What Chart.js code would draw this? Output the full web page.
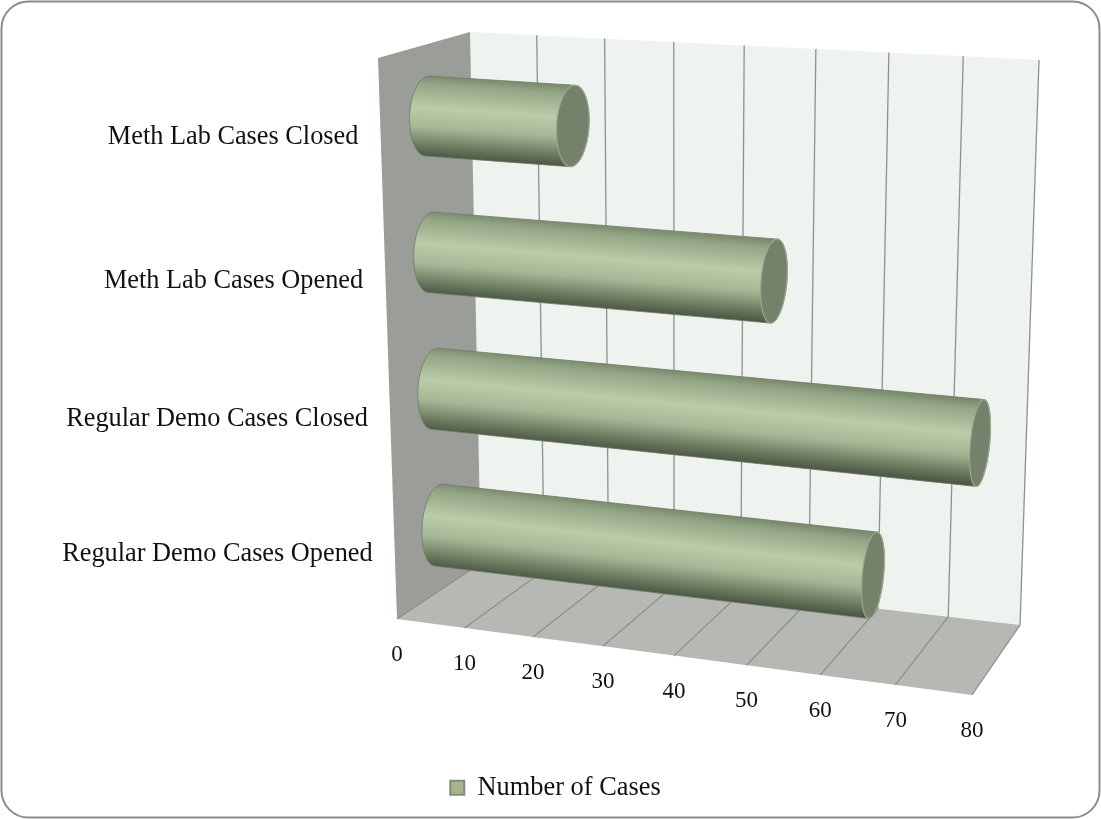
<!DOCTYPE html>
<html><head><meta charset="utf-8">
<style>html,body{margin:0;padding:0;background:#fff}canvas{display:block}</style>
<script src="https://cdn.jsdelivr.net/npm/chart.js@4"></script>
</head><body>
<canvas id="c" width="1101" height="819"></canvas>
<script>
const categories = ["Meth Lab Cases Closed","Meth Lab Cases Opened","Regular Demo Cases Closed","Regular Demo Cases Opened"];
const numberOfCases = [21,49,77,63];
const seriesName = "Number of Cases";
const axisMax = 80, axisStep = 10;
const serif = "'Liberation Serif', serif";
const labelNudge = [9,13,10,5];

// box corners on screen: front/back, bottom/top, left/right
const C = {
  fbl:[397,619], ftl:[378,58], bbl:[481,563], btl:[470,32],
  fbr:[972,695], ftr:[985,102], bbr:[1020,625], btr:[1039,60]
};
const lerp=(a,b,k)=>[a[0]+(b[0]-a[0])*k,a[1]+(b[1]-a[1])*k];
const persp=t=>{const a=0.93;return t*a/(1+t*(a-1));};
function P(t,h,d){
  const s=persp(t);
  const fb=lerp(C.fbl,C.fbr,s), ft=lerp(C.ftl,C.ftr,s), bb=lerp(C.bbl,C.bbr,s), bt=lerp(C.btl,C.btr,s);
  return lerp(lerp(fb,ft,h),lerp(bb,bt,h),d);
}
function poly(ctx,pts,fill,stroke,lw){
  ctx.beginPath();pts.forEach((p,i)=>i?ctx.lineTo(p[0],p[1]):ctx.moveTo(p[0],p[1]));ctx.closePath();
  if(fill){ctx.fillStyle=fill;ctx.fill();}
  if(stroke){ctx.strokeStyle=stroke;ctx.lineWidth=lw||1;ctx.stroke();}
}
function hull(pts){
  const s=pts.slice().sort((a,b)=>a[0]-b[0]||a[1]-b[1]);
  const cr=(o,a,b)=>(a[0]-o[0])*(b[1]-o[1])-(a[1]-o[1])*(b[0]-o[0]);
  const lo=[],up=[];
  s.forEach(p=>{while(lo.length>1&&cr(lo[lo.length-2],lo[lo.length-1],p)<=0)lo.pop();lo.push(p);});
  s.slice().reverse().forEach(p=>{while(up.length>1&&cr(up[up.length-2],up[up.length-1],p)<=0)up.pop();up.push(p);});
  lo.pop();up.pop();return lo.concat(up);
}
const stops=[[0,'#7a896e'],[.1,'#94a485'],[.4,'#bacca8'],[.64,'#a6b796'],[.86,'#6e7c62'],[1,'#4c5846']];
function cylinder(ctx,t1,hc,rh){
  const rd=0.2,dc=0.52,N=120;
  const ring=(t,th)=>P(t,hc+rh*Math.cos(th),dc-rd*Math.sin(th));
  const r0=[],r1=[],rm=[];
  for(let i=0;i<N;i++){const th=i/N*2*Math.PI;r0.push(ring(0,th));r1.push(ring(t1,th));rm.push(ring(t1/2,th));}
  const A=P(0,hc,dc),B=P(t1,hc,dc),L=Math.hypot(B[0]-A[0],B[1]-A[1]);
  const n=[-(B[1]-A[1])/L,(B[0]-A[0])/L];
  const M=P(t1/2,hc,dc);
  let lo=1e9,hi=-1e9;
  rm.forEach(p=>{const v=(p[0]-M[0])*n[0]+(p[1]-M[1])*n[1];if(v<lo)lo=v;if(v>hi)hi=v;});
  const g=ctx.createLinearGradient(M[0]+n[0]*lo,M[1]+n[1]*lo,M[0]+n[0]*hi,M[1]+n[1]*hi);
  stops.forEach(s=>g.addColorStop(s[0],s[1]));
  poly(ctx,hull(r0.concat(r1)),g,'#6f7d63',0.8);
  poly(ctx,r1,'#74816b','#99a98a',1.2);
}
const box3d={
  id:'box3d',
  beforeDraw(chart){
    const ctx=chart.ctx;
    ctx.save();
    ctx.beginPath();ctx.roundRect(1.5,1.5,1098,816,27);
    ctx.fillStyle='#fff';ctx.fill();
    ctx.strokeStyle='#8c8c8c';ctx.lineWidth=2;ctx.stroke();
    ctx.restore();
  },
  beforeDatasetsDraw(chart){
    const ctx=chart.ctx,xs=chart.scales.x,ys=chart.scales.y,a=chart.chartArea;
    const T=px=>(px-a.left)/(a.right-a.left);
    const H=py=>1-(py-a.top)/(a.bottom-a.top);
    ctx.save();
    // walls
    poly(ctx,[P(0,0,1),P(.25,0,1),P(.5,0,1),P(.75,0,1),P(1,0,1),P(1,1,1),P(.75,1,1),P(.5,1,1),P(.25,1,1),P(0,1,1)],'#eff3ef');
    poly(ctx,[P(0,0,0),P(.25,0,0),P(.5,0,0),P(.75,0,0),P(1,0,0),P(1,0,1),P(0,0,1)],'#b5b8b3');
    poly(ctx,[P(0,0,0),P(0,1,0),P(0,1,1),P(0,0,1)],'#9a9d98');
    // gridlines from the value scale
    xs.ticks.forEach(tk=>{
      const t=T(xs.getPixelForValue(tk.value));
      ctx.strokeStyle='#8d918d';ctx.lineWidth=1.3;
      ctx.beginPath();
      let p=P(t,0,0);ctx.moveTo(p[0],p[1]);
      p=P(t,0,1);ctx.lineTo(p[0],p[1]);
      if(t>0){p=P(t,1,1);ctx.lineTo(p[0],p[1]);}
      ctx.stroke();
    });
    // cylinders from the bar elements
    const meta=chart.getDatasetMeta(0);
    meta.data.forEach(el=>{
      cylinder(ctx,T(el.x),H(el.y)-0.006,el.height/(a.bottom-a.top)/2);
    });
    // axis text
    ctx.fillStyle='#111';ctx.textBaseline='middle';
    ctx.font="26.3px "+serif;ctx.textAlign='right';
    categories.forEach((c,i)=>{
      const py=ys.getPixelForValue(i),p=P(0,H(py),0);
      ctx.fillText(ys.getLabelForValue(i),p[0]-22,p[1]+labelNudge[i]);
    });
    ctx.font="23px "+serif;ctx.textAlign='center';
    xs.ticks.forEach(tk=>{
      const p=P(T(xs.getPixelForValue(tk.value)),0,0);
      ctx.fillText(tk.label,p[0],p[1]+36);
    });
    ctx.restore();
    return false;
  }
};
new Chart(document.getElementById('c'),{
  type:'bar',
  data:{labels:categories,datasets:[{label:seriesName,data:numberOfCases,backgroundColor:'#a3b48f',borderColor:'#7f8f73',borderWidth:2,barPercentage:0.58,categoryPercentage:1}]},
  options:{
    indexAxis:'y',responsive:false,animation:false,
    layout:{padding:{left:10,right:0,top:60,bottom:8}},
    scales:{
      x:{min:0,max:axisMax,ticks:{display:false,stepSize:axisStep},grid:{display:false},border:{display:false}},
      y:{ticks:{display:false},grid:{display:false},border:{display:false}}
    },
    plugins:{
      title:{display:false},tooltip:{enabled:false},
      legend:{position:'bottom',labels:{color:'#111',boxWidth:14,boxHeight:14,font:{family:serif,size:26.4},padding:10}}
    }
  },
  plugins:[box3d]
});
</script>
</body></html>
